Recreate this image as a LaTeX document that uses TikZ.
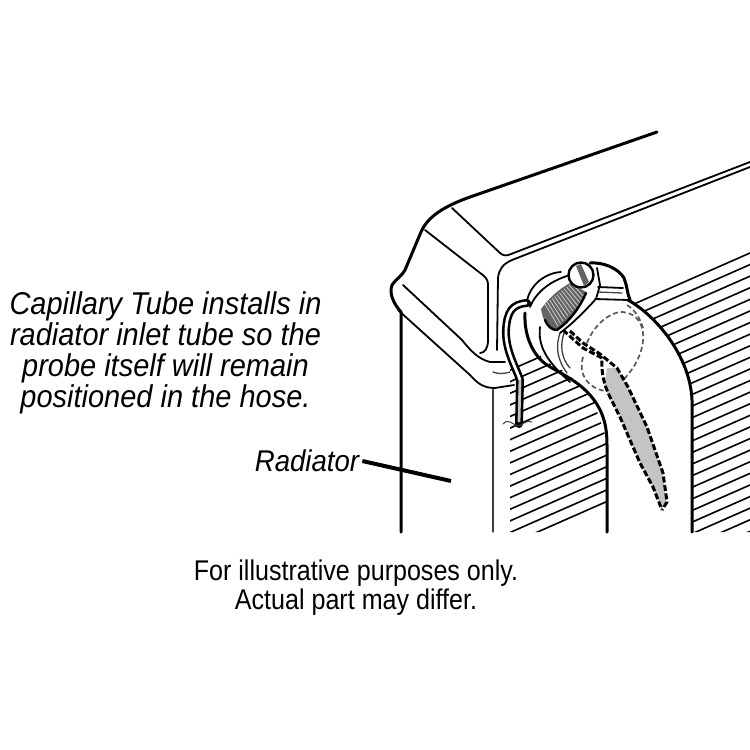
\documentclass[tikz,border=0pt]{standalone}
\usepackage{fontspec}
\setmainfont{Liberation Sans}
\newfontfamily\notefont{Liberation Sans}[FakeStretch=0.92]
\newfontfamily\plainfont{Liberation Sans}[FakeStretch=0.88]
\definecolor{probegray}{RGB}{196, 196, 196}
\definecolor{bandgray}{RGB}{100, 100, 100}
\definecolor{inkgray}{RGB}{90, 90, 90}
\usetikzlibrary{positioning}
\tikzset{
  thickline/.style={black, line width=3pt, line cap=round, line join=round},
  midline/.style={black, line width=1.8pt, line cap=round, line join=round},
  thinline/.style={black!75, line width=1.3pt, line cap=round, line join=round},
  finline/.style={black, line width=1.6pt},
  probedash/.style={black, line width=3pt, dash pattern=on 6pt off 2.5pt},
  ghostdash/.style={inkgray, line width=1.7pt, dash pattern=on 5pt off 3pt},
  notetext/.style={align=center, font=\fontsize{31.5}{31}\notefont\itshape},
  plaintext/.style={align=center, font=\fontsize{28.5}{29}\plainfont, text depth=0pt}
}

\begin{document}
\begin{tikzpicture}[x=1pt, y=-1pt]
  \useasboundingbox (0, 0) rectangle (750, 750);

  % Fins left of the hose
  \begin{scope}
    \clip (510, 532) -- (510, 362) -- (537, 349) -- (543, 360) -- (567, 373) -- (593, 400) -- (607, 440) -- (607, 532) -- cycle;
    \foreach \k in {-1, ..., 16} {
      \draw[finline] (500, {362.9 + 11.6*\k}) -- (620, {310.1 + 11.6*\k});
    }
  \end{scope}

  % Fins right of the hose
  \begin{scope}
    \clip (640, 295) -- (750, 247) -- (750, 532) -- (692, 532) -- (692, 387) -- (673, 340) -- (633, 302) -- cycle;
    \foreach \k in {0, ..., 24} {
      \draw[finline] (630, {305.8 + 11.6*\k}) -- (760, {248.6 + 11.6*\k});
    }
  \end{scope}

  % Tank outline
  \draw[thickline] (657, 132) -- (470, 197) .. controls (445, 206) and (428, 216) .. (421, 232)
    -- (405, 270) .. controls (402, 276) and (395, 280) .. (392, 285)
    .. controls (389, 293) and (393, 303) .. (401, 312) -- (401, 532);

  % Tank top panel
  \draw[midline] (452, 208) -- (500, 253) .. controls (503, 256) and (507, 256) .. (511, 254) -- (750, 162);
  \draw[midline] (750, 167) -- (512, 260) .. controls (503, 264) and (499, 269) .. (498, 278) -- (497, 350);

  % Tank corner panel
  \draw[midline] (425, 230) -- (484, 276) .. controls (487, 279) and (488, 281) .. (488, 285) -- (488, 340)
    .. controls (488, 348) and (485, 353) .. (480, 353);

  % Tank flange
  \draw[midline] (403, 285) -- (462, 340) .. controls (470, 350) and (478, 359) .. (490, 362) -- (505, 362);
  \draw[midline] (398, 310) -- (470, 375) .. controls (478, 384) and (484, 388) .. (495, 388) -- (514, 385);
  \draw[thinline] (493, 372) .. controls (498, 374) and (504, 374) .. (510, 372);
  \draw[thinline] (493, 389) -- (493, 532);

  % Hose edges
  \draw[thickline] (628, 300) .. controls (655, 315) and (690, 355) .. (692, 400) -- (692, 532);
  \draw[thickline] (525, 313) .. controls (524, 335) and (532, 352) .. (543, 362)
    .. controls (556, 372) and (575, 378) .. (590, 395) .. controls (603, 410) and (607, 425) .. (607, 445) -- (607, 532);
  \draw[midline] (540, 327) .. controls (538, 345) and (545, 360) .. (570, 382);
  \draw[thinline] (560, 333) .. controls (556, 345) and (556, 358) .. (567, 373);
  \draw[thinline] (564, 333) .. controls (560, 345) and (561, 358) .. (570, 368);

  % Ghost outline of the inlet
  \draw[ghostdash] (587, 343) .. controls (595, 322) and (615, 308) .. (628, 313)
    .. controls (650, 320) and (648, 355) .. (623, 380);
  \draw[ghostdash] (583, 357) .. controls (578, 375) and (588, 388) .. (605, 391);
  \draw[ghostdash] (627, 305) .. controls (635, 310) and (640, 318) .. (643, 328);

  % Probe
  \fill[probegray] (607, 368) -- (617, 368) -- (628, 387) -- (647, 427) -- (663, 473) -- (666, 502) -- (662, 510)
    -- (653, 487) -- (640, 463) -- (620, 417) -- (604, 387) -- cycle;
  \draw[probedash] (563, 330) -- (583, 348) -- (602, 358) .. controls (601, 372) and (604, 385) .. (610, 397)
    -- (620, 417) -- (640, 463) -- (653, 487) -- (662, 510);
  \draw[probedash] (570, 331) -- (583, 343) -- (600, 354) -- (617, 368) -- (628, 387) -- (647, 427) -- (663, 473) -- (667, 502) -- (662, 510);

  % Capillary tube
  \draw[black, line width=8pt, line cap=round] (527, 303) .. controls (512, 304) and (507, 312) .. (506, 330)
    .. controls (505, 350) and (517, 370) .. (520, 380) -- (519, 424);
  \draw[white, line width=2.8pt] (527, 303) .. controls (512, 304) and (507, 312) .. (506, 330)
    .. controls (505, 350) and (517, 370) .. (520, 380);
  \draw[probegray, line width=2.8pt] (520, 380) -- (519, 422);
  \draw[thinline, line width=1pt] (503, 424) .. controls (508, 418) and (512, 424) .. (518, 426)
    .. controls (522, 426) and (526, 419) .. (532, 422);

  % Clamp band
  \fill[bandgray] (541, 309) .. controls (549, 298) and (559, 289) .. (570, 283) -- (586, 292)
    .. controls (580, 307) and (570, 321) .. (556, 330) .. controls (548, 330) and (543, 321) .. (541, 309) -- cycle;
  \foreach \t in {0, ..., 11} {
    \draw[white!80!black, line width=0.8pt] ({545 + 2.4*\t}, {304 - 1.9*\t}) -- ({558 + 2.5*\t}, {326 - 2.5*\t});
  }
  \draw[black, line width=2.4pt, line cap=round] (545, 320) .. controls (548, 327) and (552, 330) .. (557, 330)
    .. controls (570, 321) and (580, 307) .. (586, 293);
  \draw[midline] (527, 301) .. controls (530, 285) and (545, 273) .. (561, 272);
  \draw[midline] (530, 307) .. controls (537, 290) and (553, 280) .. (570, 275);
  \draw[midline] (560, 333) .. controls (572, 324) and (584, 312) .. (595, 300);

  % Clamp housing
  \draw[thickline] (590, 263) .. controls (603, 262) and (618, 268) .. (624, 278) .. controls (627, 285) and (627, 293) .. (630, 300);
  \draw[midline] (598, 287) -- (623, 288);
  \draw[midline] (595, 299) -- (628, 300);
  \draw[thinline] (598, 292) -- (622, 293);
  \draw[midline] (597, 268) -- (600, 285) -- (596, 299);

  % Clamp screw
  \node[circle, draw=black, line width=2.4pt, fill=white, minimum size=25pt, inner sep=0pt] (screwhead) at (581, 275) {};
  \fill[bandgray] (576, 266) -- (581, 264) -- (589, 282) -- (584, 286) -- cycle;

  % Texts
  \node[notetext] (capillarytext) at (165.5, 353) {Capillary Tube installs in\\radiator inlet tube so the\\probe itself will remain\\positioned in the hose.};
  \node[notetext, font=\fontsize{30}{31}\notefont\itshape, inner sep=0pt] (radiatorlabel) at (307, 461) {Radiator};
  \node[plaintext] (disclaimertext) at (356, 585) {For illustrative purposes only.\\Actual part may differ.};

  % Leader
  \coordinate (radiatortip) at (451, 481);
  \draw[black, line width=4pt] (radiatorlabel.east) ++(3, 0) -- (radiatortip);
\end{tikzpicture}
\end{document}
